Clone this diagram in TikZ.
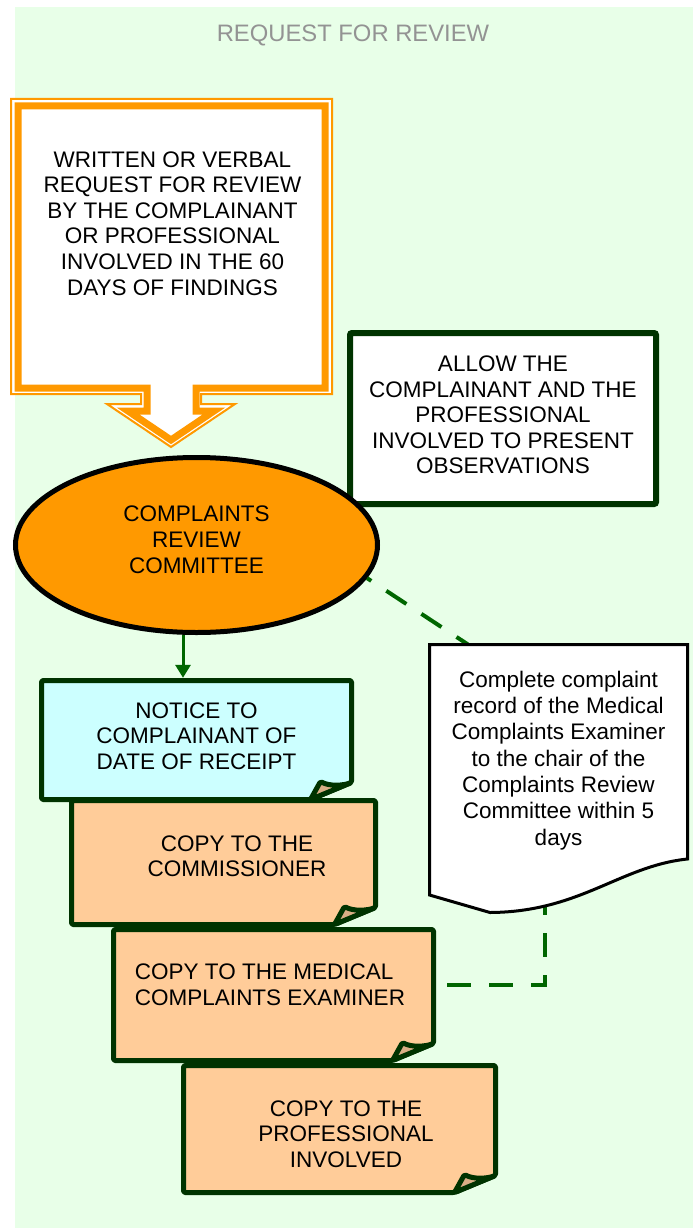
\documentclass[tikz,border=0pt]{standalone}
\usepackage{fontspec}
\setmainfont{Liberation Sans}
\usetikzlibrary{arrows.meta,shapes.geometric}
\definecolor{bgc}{HTML}{E8FFE8}
\definecolor{orng}{HTML}{FF9900}
\definecolor{dkgreen}{HTML}{003300}
\definecolor{lngreen}{HTML}{006600}
\definecolor{cyanf}{HTML}{CCFFFF}
\definecolor{peach}{HTML}{FFCC99}
\definecolor{flapc}{HTML}{D9AE85}
\definecolor{titlegray}{HTML}{939393}
\newcommand\ml[2][c]{\begin{tabular}{@{}#1@{}}#2\end{tabular}}
\newcommand\off[3]{\raisebox{#2}[\height][\depth]{\hspace*{#1}#3\hspace*{-#1}}}
\newcommand\foldbox[5]{%
  \draw[boxline, fill=#5] (#1,#2) -- (#3,#2) -- (#3,#4-17) -- (#3-41,#4) -- (#1,#4) -- cycle;
  \draw[boxline, fill=flapc] (#3-41,#4) -- (#3-31,#4-18) .. controls (#3-22,#4-13) and (#3-8,#4-14) .. (#3,#4-17) -- cycle;
}
\begin{document}
\begin{tikzpicture}[x=1pt,y=-1pt,
  font=\fontsize{22.5}{25.5}\selectfont,
  boxline/.style={draw=dkgreen, line width=5, rounded corners=1.5, line join=round},
  txt/.style={inner sep=0pt, text=black},
  dashline/.style={draw=lngreen, line width=4, dash pattern=on 24pt off 18pt},
  garrow/.style={draw=lngreen, line width=3, -{Triangle[length=13pt,width=15pt]}, shorten >=2.5pt}]
\useasboundingbox (0,0) rectangle (693,1228);
\fill[bgc] (15,7) rectangle (693,1228);
\node[anchor=base, text=titlegray, inner sep=0pt, font=\fontsize{23.8}{28}\selectfont] (title) at (353,42) {REQUEST FOR REVIEW};

% request callout
\draw[orng, line width=2, fill=white, line join=miter]
  (11,99) -- (332,99) -- (332,394) -- (201,394) -- (201,404) -- (235,404) -- (171,447)
  -- (107,404) -- (141,404) -- (141,394) -- (11,394) -- cycle;
\draw[orng, line width=7, fill=white, line join=miter]
  (18,106) -- (325,106) -- (325,388) -- (196,388) -- (196,411) -- (214,411) -- (171,440)
  -- (128,411) -- (147,411) -- (147,388) -- (18,388) -- cycle;
\node[txt, font=\fontsize{22.5}{25.6}\selectfont] (req) at (172.5,226) {\ml{WRITTEN OR VERBAL\\REQUEST FOR REVIEW\\BY THE COMPLAINANT\\OR PROFESSIONAL\\INVOLVED IN THE 60\\DAYS OF FINDINGS}};

% allow box
\node[draw=dkgreen, line width=6, rounded corners=2, fill=white, minimum width=306, minimum height=171, inner sep=0pt] (allow) at (503,418.5)
  {\off{0pt}{1pt}{\ml{ALLOW THE\\COMPLAINANT AND THE\\PROFESSIONAL\\INVOLVED TO PRESENT\\OBSERVATIONS}}};

% ellipse
\node[ellipse, draw=black, line width=5, fill=orng, minimum width=362, minimum height=175, inner sep=0pt, font=\fontsize{22.5}{26}\selectfont] (ell) at (196.5,545)
  {\off{0pt}{3pt}{\ml{COMPLAINTS\\REVIEW\\COMMITTEE}}};

% folded boxes
\foldbox{41.5}{680.5}{351.5}{799.5}{cyanf}
\node[txt, minimum width=310, minimum height=119] (notice) at (196.5,740)
  {\off{0pt}{1.5pt}{\ml{NOTICE TO\\COMPLAINANT OF\\DATE OF RECEIPT}}};
\foldbox{71.5}{800.5}{375.5}{924.5}{peach}
\node[txt, minimum width=304, minimum height=124] (comm) at (223.5,862.5)
  {\off{13.5pt}{3.5pt}{\ml{COPY TO THE\\COMMISSIONER}}};
\foldbox{113.5}{929.5}{433.5}{1060.5}{peach}
\node[txt, minimum width=320, minimum height=131] (med) at (273.5,995)
  {\off{-3.5pt}{7.5pt}{\ml[l]{COPY TO THE MEDICAL\\COMPLAINTS EXAMINER}}};
\foldbox{183.5}{1065.5}{495.5}{1192.5}{peach}
\node[txt, minimum width=312, minimum height=127] (prof) at (339.5,1129)
  {\off{6.5pt}{-7.5pt}{\ml{COPY TO THE\\PROFESSIONAL\\INVOLVED}}};

% connectors
\coordinate (ax) at (183,0);
\draw[garrow] (ell.south -| ax) -- (notice.north -| ax);
\coordinate (docA) at (468,644.5);
\coordinate (docB) at (545,907);
\coordinate (bend) at (545,985);
\draw[dashline, dash phase=19pt] (ell.-11) -- (docA);
\draw[dashline, dash phase=28.5pt] (med.east |- bend) -- (bend) -- (docB);

% document shape
\draw[draw=black, line width=3, fill=white, line join=miter]
  (429.5,644.5) -- (687.5,644.5) -- (687.5,859) .. controls (620,866) and (580,912) .. (490,912.5) -- (429.5,895) -- cycle;
\node[txt, minimum width=258, minimum height=229, font=\fontsize{22.5}{26.3}\selectfont] (doc) at (558.5,761)
  {\ml{Complete complaint\\record of the Medical\\Complaints Examiner\\to the chair of the\\Complaints Review\\Committee within 5\\days}};
\end{tikzpicture}
\end{document}
